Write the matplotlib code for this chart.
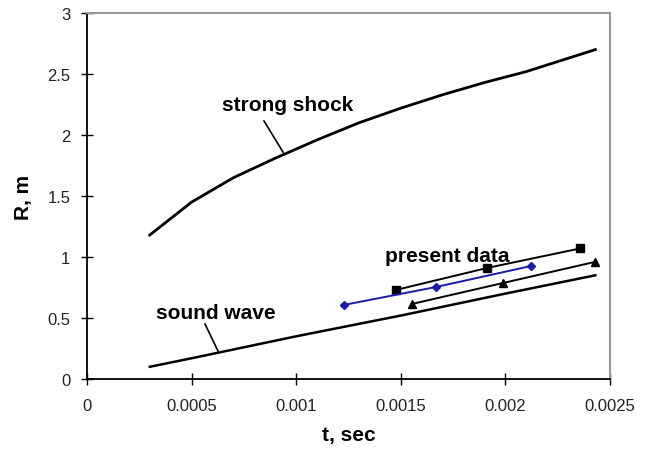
import matplotlib.pyplot as plt

plt.rcParams['font.family'] = ['Liberation Sans', 'DejaVu Sans']

# theory curves
t_strong = [0.0003, 0.0005, 0.0007, 0.0009, 0.0011, 0.0013, 0.0015, 0.0017, 0.0019, 0.0021, 0.00243]
R_strong = [1.18, 1.45, 1.65, 1.81, 1.96, 2.10, 2.22, 2.33, 2.43, 2.52, 2.70]

t_sound = [0.0003, 0.0005, 0.001, 0.0015, 0.002, 0.00243]
R_sound = [0.10, 0.17, 0.35, 0.52, 0.70, 0.85]

# present data
t_sq = [0.001477, 0.001912, 0.002357]
R_sq = [0.73, 0.91, 1.07]
t_dia = [0.001228, 0.001668, 0.002122]
R_dia = [0.607, 0.754, 0.926]
t_tri = [0.001553, 0.001989, 0.002428]
R_tri = [0.615, 0.787, 0.96]

fig = plt.figure(figsize=(6.48, 4.56), dpi=100)
ax = fig.add_axes([87/648, 76/456, 523/648, 366/456])

ax.plot(t_strong, R_strong, color='black', lw=2.0)
ax.plot(t_sound, R_sound, color='black', lw=1.8)
ax.plot(t_sq, R_sq, color='black', lw=1.4, marker='s', ms=6)
ax.plot(t_dia, R_dia, color='#1a1aa8', lw=1.4, marker='D', ms=4.5)
ax.plot(t_tri, R_tri, color='black', lw=1.4, marker='^', ms=6)

ax.set_xlim(0, 0.0025)
ax.set_ylim(0, 3)
ax.set_xticks([0, 0.0005, 0.001, 0.0015, 0.002, 0.0025])
ax.set_xticklabels(['0', '0.0005', '0.001', '0.0015', '0.002', '0.0025'])
ax.set_yticks([0, 0.5, 1, 1.5, 2, 2.5, 3])
ax.set_yticklabels(['0', '0.5', '1', '1.5', '2', '2.5', '3'])

ax.tick_params(direction='inout', length=8, width=1, labelsize=12, colors='black',
               labelcolor='#222222')
ax.tick_params(axis='x', pad=10)
ax.tick_params(axis='y', pad=8)
for s in ['left', 'bottom']:
    ax.spines[s].set_linewidth(1.3)
for s in ['top', 'right']:
    ax.spines[s].set_color('#999999')
    ax.spines[s].set_linewidth(1.5)

ax.set_xlabel('t, sec', fontsize=15, fontweight='bold', labelpad=8)
ax.set_ylabel('R, m', fontsize=15, fontweight='bold', labelpad=10)

ax.text(0.000961, 2.254, 'strong shock', fontsize=15, fontweight='bold',
        ha='center', va='center')
ax.plot([0.000846, 0.000937], [2.115, 1.86], color='black', lw=1.2)

ax.text(0.000617, 0.541, 'sound wave', fontsize=15, fontweight='bold',
        ha='center', va='center')
ax.plot([0.000564, 0.000626], [0.451, 0.230], color='black', lw=1.2)

ax.text(0.001721, 1.01, 'present data', fontsize=15, fontweight='bold',
        ha='center', va='center')

fig.savefig('out.png', dpi=100)
